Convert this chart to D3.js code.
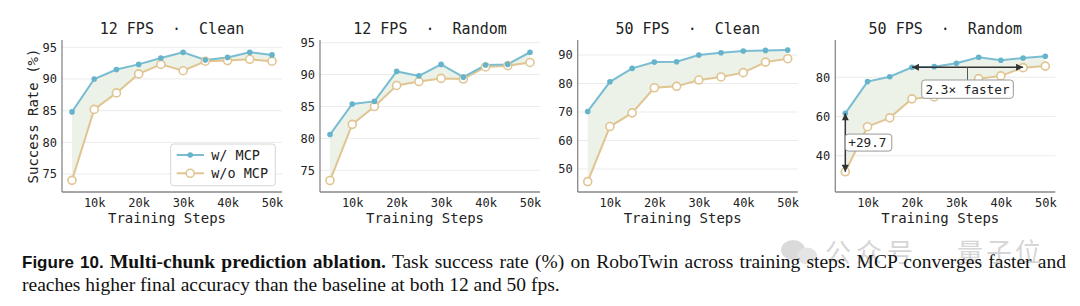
<!DOCTYPE html>
<html>
<head>
<meta charset="utf-8">
<script src="https://cdn.jsdelivr.net/npm/d3@7"></script>
<style>
  body { margin: 0; background: #fff; }
  svg { display: block; }
</style>
</head>
<body>
<div class="chart"></div>
<script>
// data
var steps = [5, 10, 15, 20, 25, 30, 35, 40, 45, 50];   // training steps (k)
var xTicks = [10, 20, 30, 40, 50];

var clean12Mcp  = [84.8, 90.0, 91.5, 92.3, 93.3, 94.2, 93.0, 93.4, 94.2, 93.8];
var clean12Base = [74.0, 85.2, 87.8, 90.8, 92.3, 91.3, 92.8, 92.9, 93.1, 92.8];
var rand12Mcp   = [80.6, 85.4, 85.8, 90.5, 89.8, 91.6, 89.6, 91.5, 91.6, 93.5];
var rand12Base  = [73.4, 82.2, 85.0, 88.3, 88.9, 89.4, 89.3, 91.2, 91.4, 91.9];
var clean50Mcp  = [70.2, 80.6, 85.3, 87.5, 87.6, 90.0, 90.8, 91.4, 91.6, 91.7];
var clean50Base = [45.6, 64.9, 69.7, 78.5, 79.0, 81.2, 82.3, 83.8, 87.5, 88.7];
var rand50Mcp   = [61.6, 77.8, 80.3, 85.1, 85.4, 87.1, 90.2, 88.7, 89.8, 90.7];
var rand50Base  = [31.8, 54.8, 59.3, 69.0, 70.0, 74.5, 79.3, 80.7, 84.9, 85.7];

var titles = ["12 FPS  \u00b7  Clean", "12 FPS  \u00b7  Random", "50 FPS  \u00b7  Clean", "50 FPS  \u00b7  Random"];
var yTicks12 = [75, 80, 85, 90, 95];
var yTicks50Clean = [50, 60, 70, 80, 90];
var yTicks50Rand = [40, 60, 80];
var seriesNames = ["w/ MCP", "w/o MCP"];

var svgWidth = 1080;
var svgHeight = 306;
var mono = "'DejaVu Sans Mono', monospace";
var blue = "#78bdd2";
var blueDot = "#66b3cc";
var tan = "#e0c592";
var fillGreen = "#ecf2e8";

var panels = [
  { left: 62,    mcp: clean12Mcp, base: clean12Base, yDomain: [72.16, 96.15], ticks: yTicks12 },
  { left: 320,   mcp: rand12Mcp,  base: rand12Base,  yDomain: [71.6, 95.42],  ticks: yTicks12 },
  { left: 577.7, mcp: clean50Mcp, base: clean50Base, yDomain: [41.95, 95.25], ticks: yTicks50Clean },
  { left: 835.3, mcp: rand50Mcp,  base: rand50Base,  yDomain: [21.5, 99.0],   ticks: yTicks50Rand }
];
var plotTop = 40, plotBottom = 192, plotW = 220;

var svg = d3.select(".chart")
  .append("svg")
  .attr("width", svgWidth)
  .attr("height", svgHeight);

var defs = svg.append("defs");
defs.append("marker")
  .attr("id", "head")
  .attr("viewBox", "0 0 10 10")
  .attr("refX", 10).attr("refY", 5)
  .attr("markerWidth", 9).attr("markerHeight", 7)
  .attr("markerUnits", "userSpaceOnUse")
  .attr("orient", "auto-start-reverse")
  .append("path")
  .attr("d", "M0,0 L10,5 L0,10 Z")
  .attr("fill", "#333");

panels.forEach(function (p, i) {
  var g = svg.append("g").attr("transform", `translate(${p.left}, 0)`);

  var x = d3.scaleLinear().domain([2.75, 52.25]).range([0, plotW]);
  var y = d3.scaleLinear().domain(p.yDomain).range([plotBottom, plotTop]);

  // grid
  g.selectAll(".grid")
    .data(p.ticks)
    .enter()
    .append("line")
    .attr("x1", 0).attr("x2", plotW)
    .attr("y1", d => y(d)).attr("y2", d => y(d))
    .attr("stroke", "#ebebeb")
    .attr("stroke-width", 1);

  // fill between
  var area = d3.area()
    .x((d, j) => x(steps[j]))
    .y0((d, j) => y(p.base[j]))
    .y1(d => y(d));
  g.append("path")
    .datum(p.mcp)
    .attr("d", area)
    .attr("fill", fillGreen);

  // axes
  var bottomAxis = d3.axisBottom(x).tickValues(xTicks).tickFormat(d => d + "k").tickSize(0).tickPadding(6);
  var leftAxis = d3.axisLeft(y).tickValues(p.ticks).tickSize(0).tickPadding(5);

  var gx = g.append("g").attr("transform", `translate(0, ${plotBottom})`).call(bottomAxis);
  var gy = g.append("g").call(leftAxis);
  [gx, gy].forEach(function (a) {
    a.select(".domain").attr("stroke", "#888").attr("stroke-width", 1.3);
    a.selectAll("text").attr("font-family", mono).attr("font-size", 12).attr("fill", "#222");
  });
  gy.select(".domain").attr("d", `M0,${plotTop}V${plotBottom}`);
  gx.select(".domain").attr("d", `M0,0H${plotW}`);

  // lines
  var line = d3.line().x((d, j) => x(steps[j])).y(d => y(d));
  g.append("path").datum(p.base).attr("d", line)
    .attr("fill", "none").attr("stroke", tan).attr("stroke-width", 2);
  g.append("path").datum(p.mcp).attr("d", line)
    .attr("fill", "none").attr("stroke", blue).attr("stroke-width", 2);

  g.selectAll(".baseDot")
    .data(p.base)
    .enter()
    .append("circle")
    .attr("cx", (d, j) => x(steps[j]))
    .attr("cy", d => y(d))
    .attr("r", 4)
    .attr("fill", "#fff")
    .attr("stroke", tan)
    .attr("stroke-width", 1.6);

  g.selectAll(".mcpDot")
    .data(p.mcp)
    .enter()
    .append("circle")
    .attr("cx", (d, j) => x(steps[j]))
    .attr("cy", d => y(d))
    .attr("r", 2.8)
    .attr("fill", blueDot);

  // titles and labels
  g.append("text")
    .attr("x", plotW / 2).attr("y", 34)
    .attr("text-anchor", "middle")
    .attr("font-family", mono).attr("font-size", 15).attr("fill", "#222")
    .attr("xml:space", "preserve")
    .text(titles[i]);

  g.append("text")
    .attr("x", plotW / 2 - 5).attr("y", 223)
    .attr("text-anchor", "middle")
    .attr("font-family", mono).attr("font-size", 14).attr("fill", "#222")
    .text("Training Steps");

  if (i === 0) {
    g.append("text")
      .attr("transform", `translate(-29, ${(plotTop + plotBottom) / 2}) rotate(-90)`)
      .attr("text-anchor", "middle")
      .attr("dy", "0.35em")
      .attr("font-family", mono).attr("font-size", 14).attr("fill", "#222")
      .text("Success Rate (%)");

    // legend
    var lg = g.append("g").attr("transform", `translate(${170.7 - p.left}, 144)`);
    lg.append("rect")
      .attr("width", 104.6).attr("height", 41.7)
      .attr("rx", 3)
      .attr("fill", "#fff").attr("fill-opacity", 0.85)
      .attr("stroke", "#d6d6d6");
    seriesNames.forEach(function (name, k) {
      var ly = k === 0 ? 11 : 29.3;
      var col = k === 0 ? blue : tan;
      lg.append("line")
        .attr("x1", 6).attr("x2", 33.3).attr("y1", ly).attr("y2", ly)
        .attr("stroke", col).attr("stroke-width", 2);
      if (k === 0) {
        lg.append("circle").attr("cx", 19.5).attr("cy", ly).attr("r", 2.8).attr("fill", blueDot);
      } else {
        lg.append("circle").attr("cx", 19.5).attr("cy", ly).attr("r", 4)
          .attr("fill", "#fff").attr("stroke", tan).attr("stroke-width", 1.6);
      }
      lg.append("text")
        .attr("x", 40.5).attr("y", ly).attr("dy", "0.35em")
        .attr("font-family", mono).attr("font-size", 13.5).attr("fill", "#222")
        .attr("xml:space", "preserve")
        .text(name);
    });
  }

  if (i === 3) {
    // +29.7 gap at first step
    var x0 = x(steps[0]);
    g.append("line")
      .attr("x1", x0).attr("x2", x0)
      .attr("y1", y(p.mcp[0])).attr("y2", y(p.base[0]))
      .attr("stroke", "#333").attr("stroke-width", 1.5)
      .attr("marker-start", "url(#head)").attr("marker-end", "url(#head)");
    var midY = y((p.mcp[0] + p.base[0]) / 2);
    g.append("rect")
      .attr("x", x0).attr("y", midY - 8.5)
      .attr("width", 46.5).attr("height", 17)
      .attr("rx", 3)
      .attr("fill", "#fff").attr("stroke", "#999");
    g.append("text")
      .attr("x", x0 + 3).attr("y", midY).attr("dy", "0.35em")
      .attr("font-family", mono).attr("font-size", 12.7).attr("fill", "#222")
      .text("+29.7");

    // 2.3x faster: step where MCP hits 85 vs baseline
    var xa = x(steps[3]), xb = x(steps[8]);
    var ya = y(p.mcp[3]);
    g.append("line")
      .attr("x1", xa).attr("x2", xb).attr("y1", ya).attr("y2", ya)
      .attr("stroke", "#333").attr("stroke-width", 1.5)
      .attr("marker-start", "url(#head)").attr("marker-end", "url(#head)");
    var xm = (xa + xb) / 2;
    g.append("line")
      .attr("x1", xm).attr("x2", xm).attr("y1", ya).attr("y2", 80)
      .attr("stroke", "#555").attr("stroke-width", 1);
    g.append("rect")
      .attr("x", xm - 45.8).attr("y", 80)
      .attr("width", 91.6).attr("height", 18.3)
      .attr("rx", 3)
      .attr("fill", "#fff").attr("stroke", "#999");
    g.append("text")
      .attr("x", xm).attr("y", 89.2).attr("dy", "0.35em")
      .attr("text-anchor", "middle")
      .attr("font-family", mono).attr("font-size", 12.7).attr("fill", "#222")
      .text("2.3\u00d7 faster");
  }
});

// watermark
var wm = svg.append("g").attr("opacity", 0.55);
wm.append("ellipse").attr("cx", 793).attr("cy", 250).attr("rx", 12).attr("ry", 10).attr("fill", "#bdbdbd");
wm.append("ellipse").attr("cx", 807).attr("cy", 256).attr("rx", 10).attr("ry", 8.5).attr("fill", "#cfcfcf");
wm.append("text")
  .attr("x", 825).attr("y", 262)
  .attr("font-family", "'Noto Sans CJK SC'").attr("font-size", 26).attr("fill", "#b5b5b5")
  .attr("letter-spacing", 5)
  .text("公众号");
wm.append("text")
  .attr("x", 957).attr("y", 262)
  .attr("font-family", "'Noto Sans CJK SC'").attr("font-size", 26).attr("fill", "#b5b5b5")
  .attr("letter-spacing", 3)
  .text("量子位");

// caption
var serif = "'Liberation Serif', 'Times New Roman', serif";
var cap1 = svg.append("text")
  .attr("x", 22).attr("y", 267.5)
  .attr("fill", "#111");
cap1.append("tspan")
  .attr("font-family", "'Liberation Sans', Arial, sans-serif").attr("font-weight", "bold").attr("font-size", 17)
  .text("Figure 10.");
cap1.append("tspan")
  .attr("font-family", serif).attr("font-weight", "bold").attr("font-size", 19.5)
  .text(" Multi-chunk prediction ablation.");
cap1.append("tspan")
  .attr("font-family", serif).attr("font-size", 19.5)
  .text(" Task success rate (%) on RoboTwin across training steps. MCP converges faster and");

// justify the first line to the column width
var natural = cap1.node().getComputedTextLength();
var spaces = (cap1.text().match(/ /g) || []).length;
cap1.attr("word-spacing", (1066 - 22 - natural) / spaces);

svg.append("text")
  .attr("x", 22).attr("y", 290.5)
  .attr("fill", "#111")
  .attr("font-family", serif).attr("font-size", 19.5)
  .text("reaches higher final accuracy than the baseline at both 12 and 50 fps.");
</script>
</body>
</html>
